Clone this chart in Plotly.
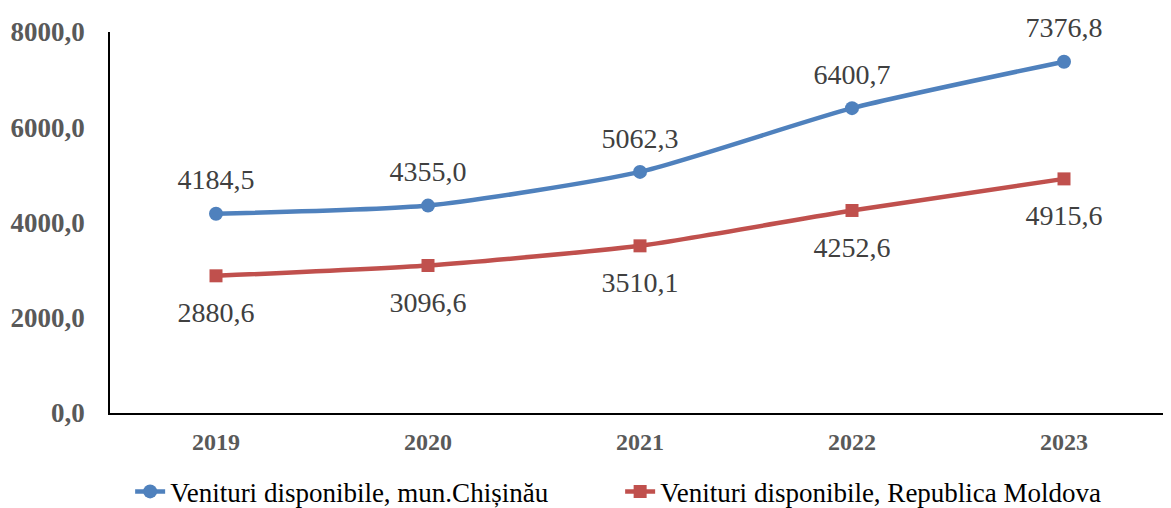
import plotly.graph_objects as go

years = ["2019", "2020", "2021", "2022", "2023"]
chisinau = [4184.5, 4355.0, 5062.3, 6400.7, 7376.8]
moldova = [2880.6, 3096.6, 3510.1, 4252.6, 4915.6]
name_chisinau = "Venituri disponibile, mun.Chișinău"
name_moldova = "Venituri disponibile, Republica Moldova"
y_ticks = [0, 2000, 4000, 6000, 8000]


def fmt(v):
    return f"{v:.1f}".replace(".", ",")


font_family = "Liberation Serif"
blue = "#4F81BD"
red = "#C0504D"
label_font = dict(family=font_family, size=28, color="#404040")

fig = go.Figure()

fig.add_trace(go.Scatter(
    x=years, y=chisinau, name=name_chisinau,
    mode="lines+markers",
    line=dict(color=blue, width=4.5, shape="spline", smoothing=0.6),
    marker=dict(symbol="circle", size=14, color=blue),
))

fig.add_trace(go.Scatter(
    x=years, y=moldova, name=name_moldova,
    mode="lines+markers",
    line=dict(color=red, width=4.5, shape="spline", smoothing=0.6),
    marker=dict(symbol="square", size=13, color=red),
))

# data labels: invisible big markers push the text away from the points
fig.add_trace(go.Scatter(
    x=years, y=chisinau, mode="markers+text", cliponaxis=False,
    marker=dict(size=26, opacity=0), showlegend=False, hoverinfo="skip",
    text=[fmt(v) for v in chisinau], textposition="top center",
    textfont=label_font,
))
fig.add_trace(go.Scatter(
    x=years, y=moldova, mode="markers+text", cliponaxis=False,
    marker=dict(size=39, opacity=0), showlegend=False, hoverinfo="skip",
    text=[fmt(v) for v in moldova], textposition="bottom center",
    textfont=label_font,
))

# page has an 8px body margin, so the figure is a bit smaller than the window
fig.update_layout(
    width=1163, height=500,
    margin=dict(l=102, r=1, t=24, b=95, autoexpand=False),
    paper_bgcolor="white", plot_bgcolor="white",
    font=dict(family=font_family),
    separators=", ",
    showlegend=True,
    legend=dict(
        orientation="h", x=0.019, xanchor="left", y=-0.207, yanchor="middle",
        font=dict(family=font_family, size=27, color="black"),
        entrywidth=445, entrywidthmode="pixels",
        tracegroupgap=0,
    ),
    xaxis=dict(
        type="category", range=[-0.5, 4.5], automargin=False,
        showline=True, linecolor="black", linewidth=1.5,
        showgrid=False, ticks="", ticklabelstandoff=6,
        tickfont=dict(family=font_family, size=24, color="#595959", weight="bold"),
    ),
    yaxis=dict(
        range=[0, 8000], tickvals=y_ticks, automargin=False,
        tickformat=".1f",
        showline=True, linecolor="black", linewidth=1.5,
        showgrid=False, zeroline=False, ticks="", ticklabelstandoff=18,
        tickfont=dict(family=font_family, size=27, color="#595959", weight="bold"),
    ),
)

fig.write_html("out.html")
